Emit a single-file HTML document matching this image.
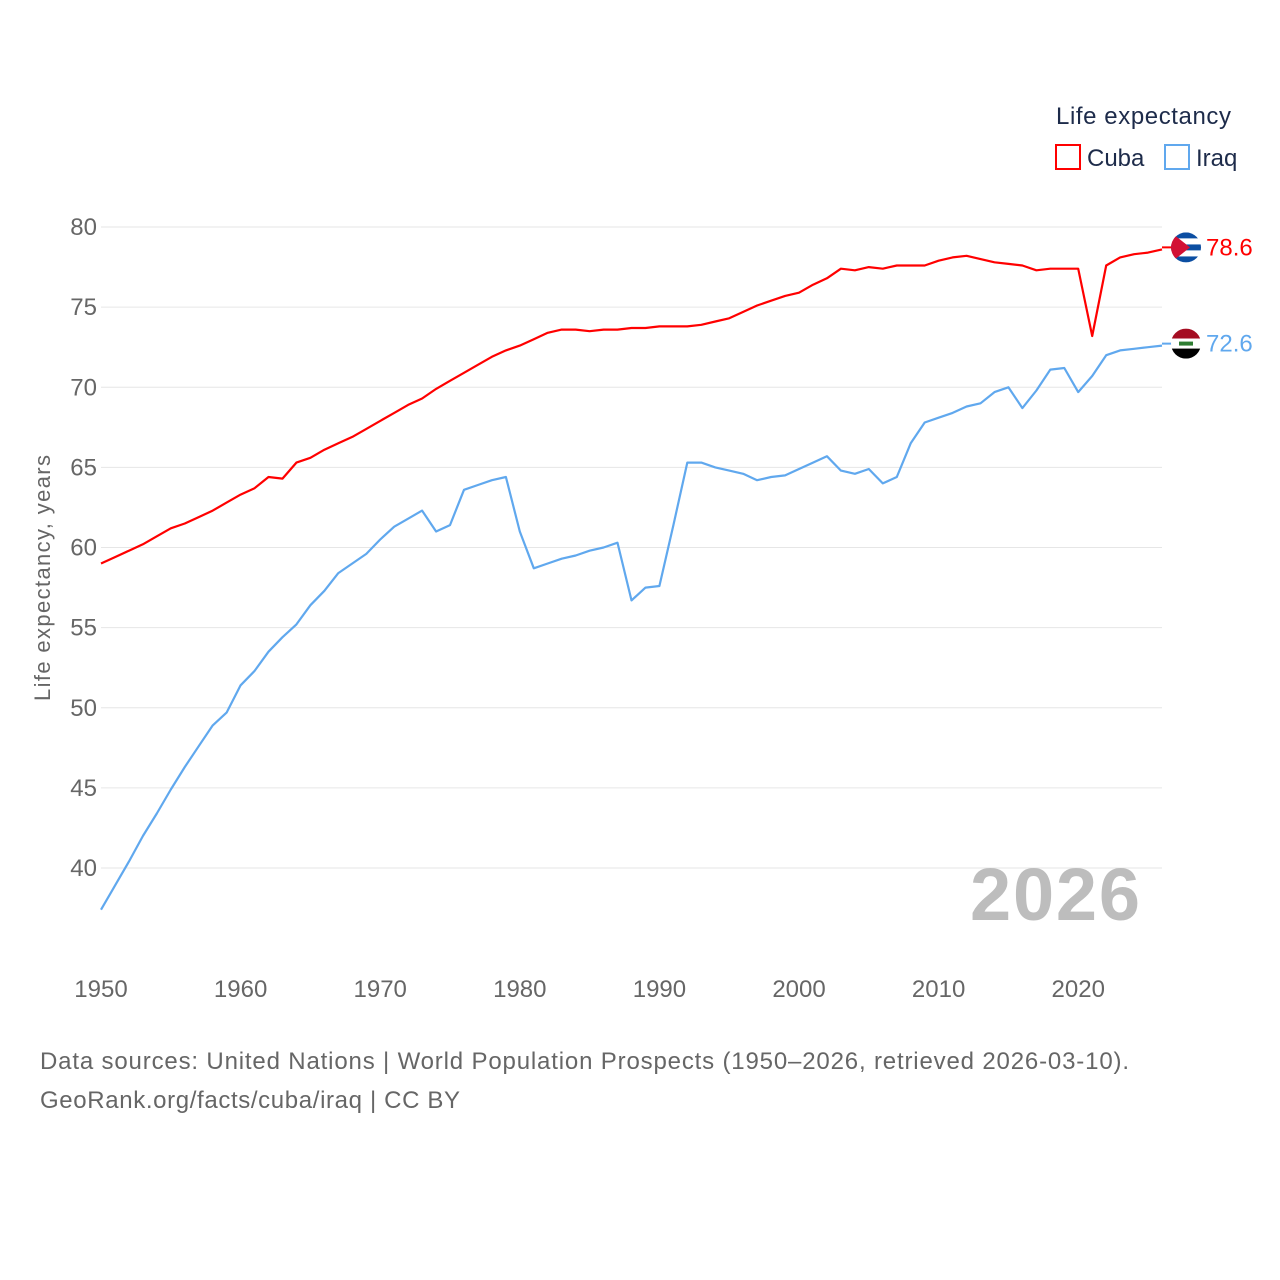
<!DOCTYPE html>
<html><head><meta charset="utf-8"><style>
body{margin:0;background:#fff;font-family:"Liberation Sans",sans-serif}
svg{display:block}
</style></head><body>
<svg width="1280" height="1280" viewBox="0 0 1280 1280">
<g id="grid"></g>
<g id="yticks"></g>
<g id="xticks"></g>
<text transform="translate(50,578) rotate(-90)" text-anchor="middle" font-size="22" fill="#666" textLength="246">Life expectancy, years</text>
<text x="1140" y="920" text-anchor="end" font-size="74" font-weight="bold" fill="#bdbdbd" textLength="170">2026</text>
<g id="lines"></g>
<g>
<text x="1056" y="124" font-size="24" fill="#1d2b4a" textLength="175">Life expectancy</text>
<g><rect x="1056" y="145" width="24" height="24" fill="none" stroke="#ff0000" stroke-width="2"/><text x="1087" y="166" font-size="24" fill="#1d2b4a">Cuba</text></g>
<g><rect x="1165" y="145" width="24" height="24" fill="none" stroke="#60a8ee" stroke-width="2"/><text x="1196" y="166" font-size="24" fill="#1d2b4a">Iraq</text></g>
</g>
<g id="ends"></g>
<text x="40" y="1069" font-size="24" fill="#666" textLength="1089">Data sources: United Nations | World Population Prospects (1950–2026, retrieved 2026-03-10).</text>
<text x="40" y="1108" font-size="24" fill="#666" textLength="420">GeoRank.org/facts/cuba/iraq | CC BY</text>
</svg>
<script>
const startYear = 1950;
const cuba = [59.0,59.4,59.8,60.2,60.7,61.2,61.5,61.9,62.3,62.8,63.3,63.7,64.4,64.3,65.3,65.6,66.1,66.5,66.9,67.4,67.9,68.4,68.9,69.3,69.9,70.4,70.9,71.4,71.9,72.3,72.6,73.0,73.4,73.6,73.6,73.5,73.6,73.6,73.7,73.7,73.8,73.8,73.8,73.9,74.1,74.3,74.7,75.1,75.4,75.7,75.9,76.4,76.8,77.4,77.3,77.5,77.4,77.6,77.6,77.6,77.9,78.1,78.2,78.0,77.8,77.7,77.6,77.3,77.4,77.4,77.4,73.2,77.6,78.1,78.3,78.4,78.6];
const iraq = [37.4,38.9,40.4,42.0,43.4,44.9,46.3,47.6,48.9,49.7,51.4,52.3,53.5,54.4,55.2,56.4,57.3,58.4,59.0,59.6,60.5,61.3,61.8,62.3,61.0,61.4,63.6,63.9,64.2,64.4,61.0,58.7,59.0,59.3,59.5,59.8,60.0,60.3,56.7,57.5,57.6,61.4,65.3,65.3,65.0,64.8,64.6,64.2,64.4,64.5,64.9,65.3,65.7,64.8,64.6,64.9,64.0,64.4,66.5,67.8,68.1,68.4,68.8,69.0,69.7,70.0,68.7,69.8,71.1,71.2,69.7,70.7,72.0,72.3,72.4,72.5,72.6];
const yTicks = [40,45,50,55,60,65,70,75,80];
const xTicks = [1950,1960,1970,1980,1990,2000,2010,2020];
const ns="http://www.w3.org/2000/svg";
const X = yr => 101 + (yr-1950)*(1162-101)/76;
const Y = v => 227 + (80-v)*(868-227)/40;
function mk(tag, attrs, parent){const e=document.createElementNS(ns,tag);for(const k in attrs)e.setAttribute(k,attrs[k]);parent.appendChild(e);return e;}
const grid=document.getElementById('grid'), yt=document.getElementById('yticks'), xt=document.getElementById('xticks');
yTicks.forEach(v=>{
  const l=mk('line',{x1:101,x2:1162,y1:Y(v),y2:Y(v),stroke:'#e6e6e6','stroke-width':1},grid);
  
  
  const t=mk('text',{x:97,y:Y(v)+8,'text-anchor':'end','font-size':24,fill:'#666'},yt);
  t.textContent=v;
  
  
});
xTicks.forEach(v=>{
  const t=mk('text',{x:X(v),y:997,'text-anchor':'middle','font-size':24,fill:'#666'},xt);
  t.textContent=v;
  
  
});
const lines=document.getElementById('lines');
function line(arr,color,name){
  const d=arr.map((v,i)=>(i?'L':'M')+X(startYear+i).toFixed(1)+','+Y(v).toFixed(1)).join('');
  const p=mk('path',{d:d,fill:'none',stroke:color,'stroke-width':2.2,'stroke-linejoin':'round'},lines);
  
  
}
line(cuba,'#ff0000','cuba-line');
line(iraq,'#60a8ee','iraq-line');
const ends=document.getElementById('ends');
function endLabel(arr,color,name,flag){
  const v=arr[arr.length-1], y=Y(v)-2;
  mk('line',{x1:1162,x2:1180,y1:y,y2:y,stroke:color,'stroke-width':2},ends);
  const g=mk('g',{},ends);
  
  
  const cid='c'+name;
  const cp=mk('clipPath',{id:cid},g); mk('circle',{cx:1186,cy:y,r:15},cp);
  const gg=mk('g',{'clip-path':'url(#'+cid+')'},g);
  if(flag==='cu'){
    for(let i=0;i<5;i++) mk('rect',{x:1171,y:y-15+i*6,width:30,height:6,fill:i%2?'#fff':'#0b4ea2'},gg);
    mk('polygon',{points:`1171,${y-15} 1171,${y+15} 1190,${y}`,fill:'#d21034'},gg);
  } else {
    mk('rect',{x:1171,y:y-15,width:30,height:10,fill:'#a50d22'},gg);
    mk('rect',{x:1171,y:y-5,width:30,height:10,fill:'#fff'},gg);
    mk('rect',{x:1171,y:y+5,width:30,height:10,fill:'#000'},gg);
    mk('rect',{x:1179,y:y-2,width:14,height:4,fill:'#2e7d32'},gg);
  }
  const t=mk('text',{x:1206,y:y+8,'font-size':24,fill:color},ends);
  t.textContent=v.toFixed(1);
  
  
}
endLabel(cuba,'#ff0000','cuba','cu');
endLabel(iraq,'#60a8ee','iraq','iq');
</script>
</body></html>
